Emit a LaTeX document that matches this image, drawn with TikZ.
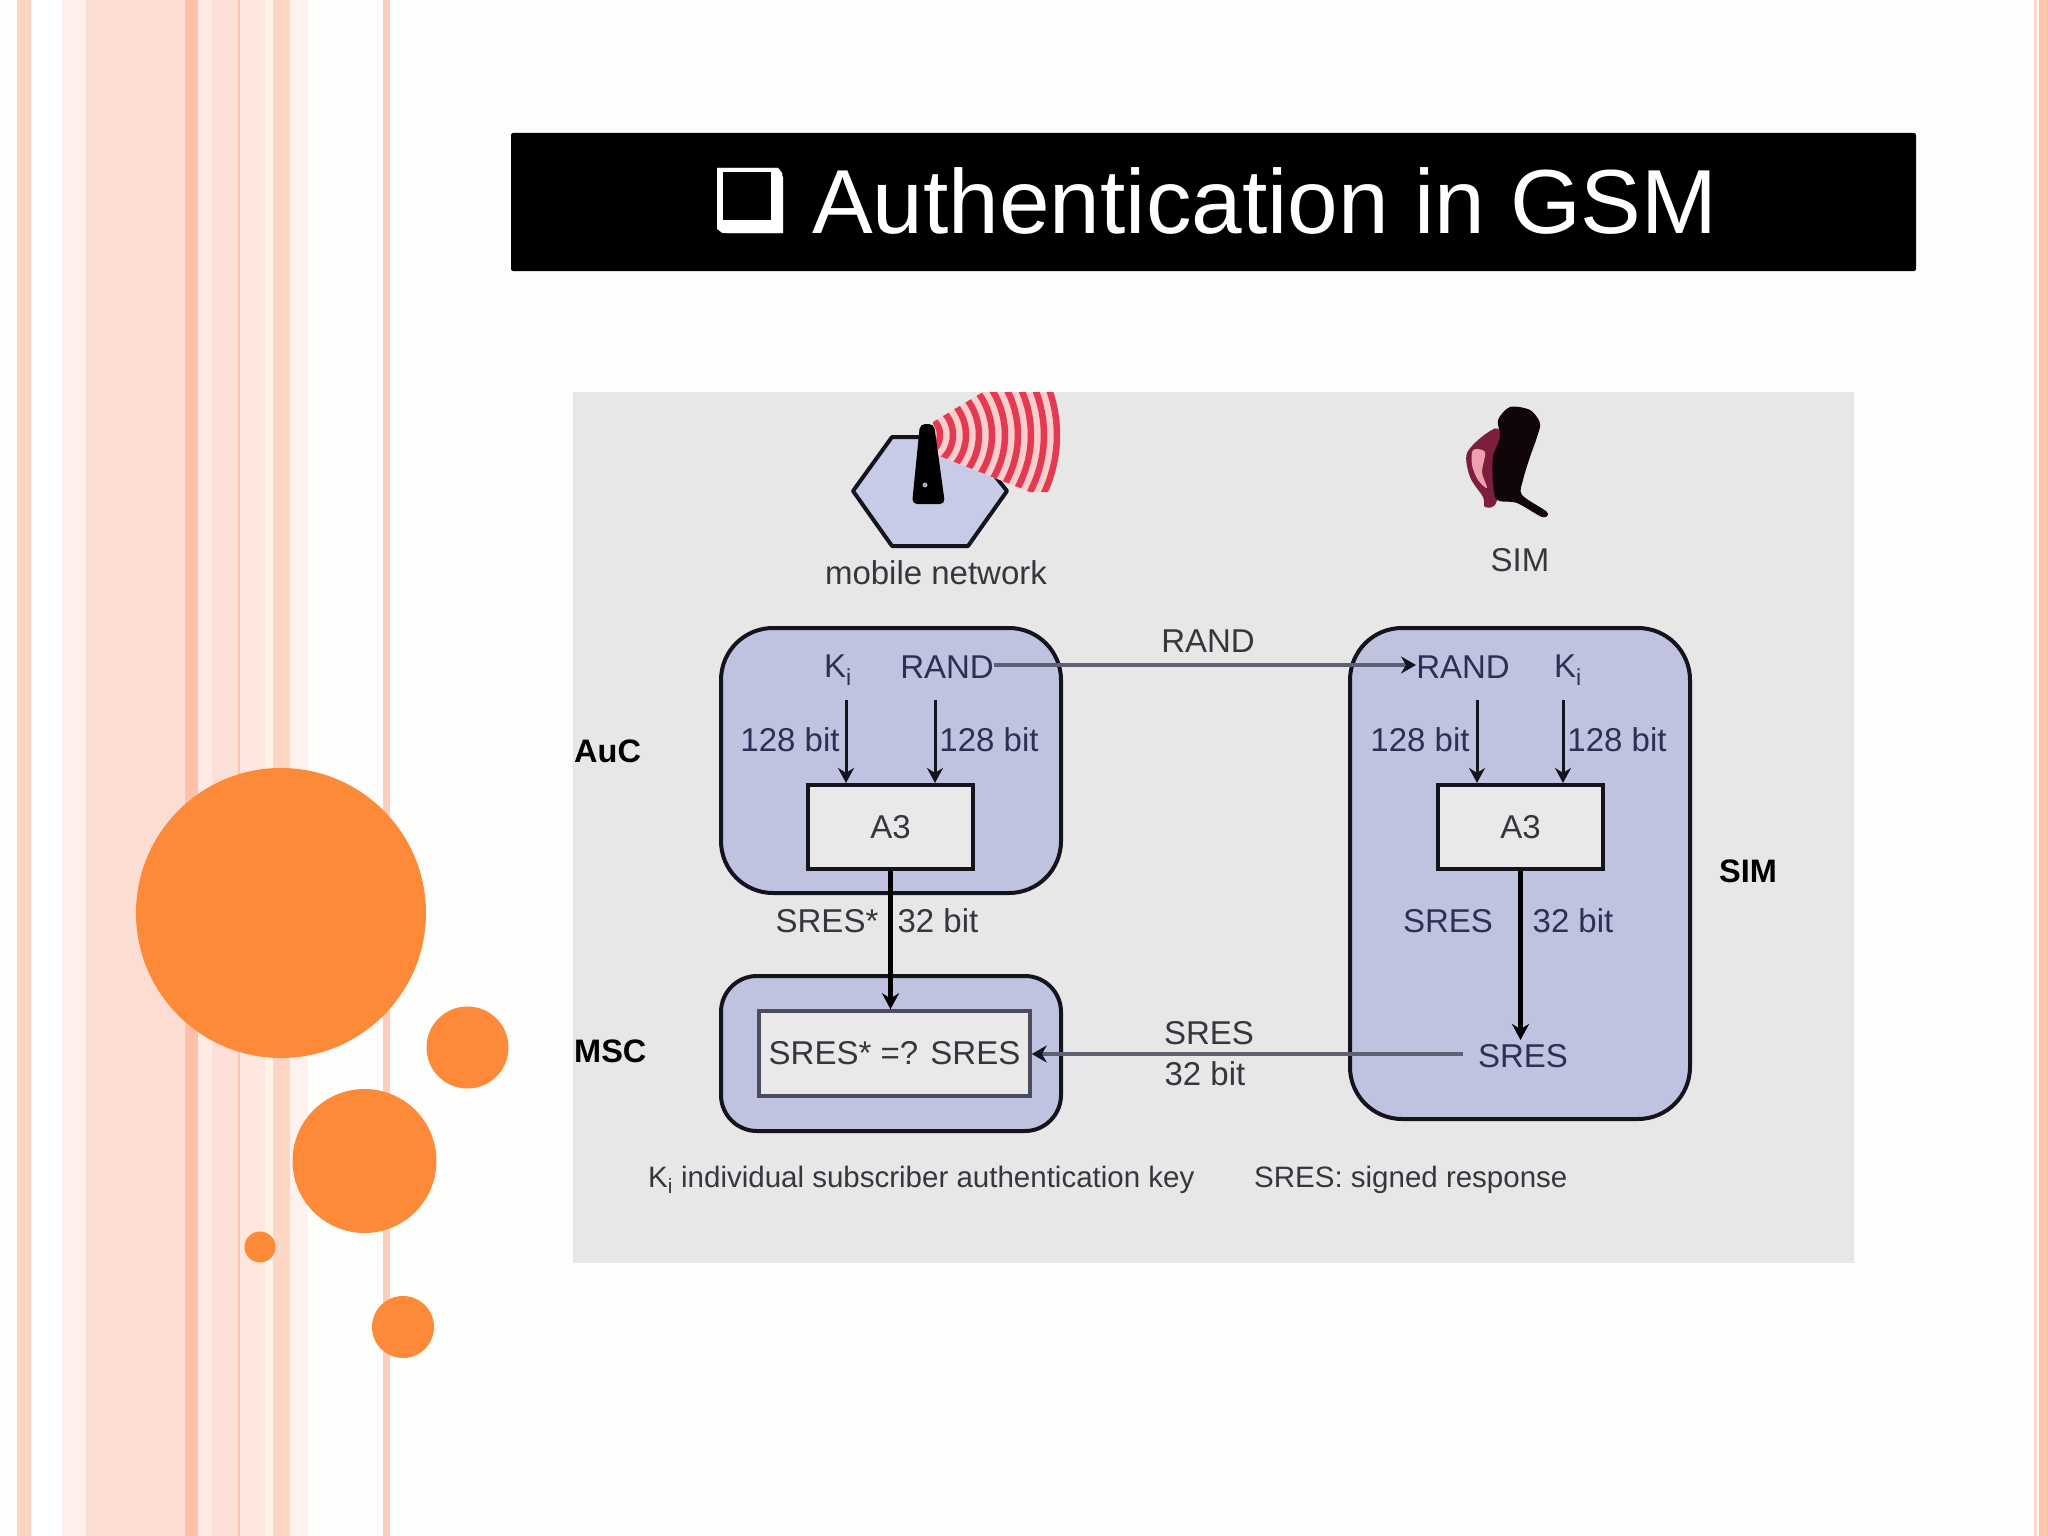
\documentclass[tikz,border=0pt]{standalone}
\usepackage{fontspec}
\setmainfont{Liberation Sans}
\newfontfamily\djv{DejaVu Sans}
\usetikzlibrary{arrows.meta}
\definecolor{pagebg}{HTML}{FDFEFC}
\definecolor{panelbg}{HTML}{E7E7E8}
\definecolor{boxfill}{HTML}{C0C3E0}
\definecolor{hexfill}{HTML}{C8CBE6}
\definecolor{whitebox}{HTML}{E9E9EA}
\definecolor{inktxt}{HTML}{36363E}
\definecolor{navytxt}{HTML}{2C3054}
\definecolor{boxline}{HTML}{14141F}
\definecolor{wireline}{HTML}{5E6074}
\definecolor{orangedot}{HTML}{FD8A38}
\definecolor{wavered}{HTML}{E23A50}
\definecolor{wavepink}{HTML}{FCCDCD}
\definecolor{handdark}{HTML}{7D1E3C}
\definecolor{handpink}{HTML}{EEA0AF}
\definecolor{phoneblack}{HTML}{0F050A}
\definecolor{dotgrey}{HTML}{AAAAAA}
\definecolor{sa}{HTML}{FBD3BF}
\definecolor{sb}{HTML}{FFF0EB}
\definecolor{sc}{HTML}{FCDDD2}
\definecolor{sd}{HTML}{FFBFAB}
\definecolor{se}{HTML}{FFEBE3}
\definecolor{sf}{HTML}{FEDFD8}
\definecolor{sg}{HTML}{F9C6B6}
\definecolor{sh}{HTML}{FFE6DF}
\definecolor{si}{HTML}{FFF3E9}
\definecolor{sj}{HTML}{FDD6C6}
\definecolor{sk}{HTML}{FFF2EE}
\definecolor{sl}{HTML}{FDCDBF}
\definecolor{sm}{HTML}{FFD5C8}
\definecolor{sn}{HTML}{FFC4AE}
\tikzset{
  x=1pt,y=-1pt,
  dot/.style={circle,fill=orangedot,draw=none,inner sep=0pt,minimum size=#1},
  lbl/.style={inner sep=0pt,text=inktxt,font=\fontsize{33}{40}\selectfont},
  inlbl/.style={inner sep=0pt,text=navytxt,font=\fontsize{33}{40}\selectfont},
  sidelbl/.style={inner sep=0pt,text=black,font=\bfseries\fontsize{32.5}{38}\selectfont},
  caplbl/.style={inner sep=0pt,text=inktxt,font=\fontsize{29.5}{36}\selectfont},
  group/.style={draw=boxline,line width=4pt,fill=boxfill,rounded corners=#1},
  fnbox/.style={draw=boxline,line width=4pt,fill=whitebox},
  thin arrow/.style={draw=boxline,line width=3pt,-{Stealth[length=15pt,width=16pt]}},
  thick arrow/.style={draw=black,line width=4.5pt,-{Stealth[length=16pt,width=17pt]}},
  wire/.style={draw=wireline,line width=3.5pt,-{Stealth[length=15pt,width=17pt,color=boxline]}},
}
\begin{document}
\begin{tikzpicture}
\useasboundingbox (0,0) rectangle (2048,1536);
\fill[pagebg] (0,0) rectangle (2048,1536);
% stripes
\fill[white] (31,0) rectangle (62,1536);
\fill[sa] (17,0) rectangle (31,1536);
\fill[sb] (62,0) rectangle (86,1536);
\fill[sc] (86,0) rectangle (185,1536);
\fill[sd] (185,0) rectangle (198,1536);
\fill[se] (198,0) rectangle (212,1536);
\fill[sf] (212,0) rectangle (238,1536);
\fill[sg] (238,0) rectangle (240,1536);
\fill[sh] (240,0) rectangle (265,1536);
\fill[si] (265,0) rectangle (273,1536);
\fill[sj] (273,0) rectangle (290,1536);
\fill[sk] (290,0) rectangle (308,1536);
\fill[sl] (383,0) rectangle (390,1536);
\fill[sm] (2034,0) rectangle (2037,1536);
\fill[white] (2037,0) rectangle (2039,1536);
\fill[sn] (2039,0) rectangle (2048,1536);
% circles
\node[dot=290pt] (c1) at (281,913) {};
\node[dot=82pt] (c2) at (467.5,1047.5) {};
\node[dot=144pt] (c3) at (364.5,1161) {};
\node[dot=31pt] (c4) at (260,1247) {};
\node[dot=62pt] (c5) at (403,1327) {};
% title
\fill[black,rounded corners=2pt] (511,133) rectangle (1916,271);
\fill[white] (718,168) -- (775,168) -- (783,177) -- (783,233) -- (727,233) -- (718,225) -- cycle;
\fill[black] (723,172) rectangle (771,220);
\node[inner sep=0pt,text=white,font=\djv\fontsize{84}{92}\selectfont] (bullet) at (750.5,201) {❑};
\node[inner sep=0pt,text=white,anchor=base west,font=\fontsize{91}{100}\selectfont] (title) at (812,233) {Authentication in GSM};
% panel
\fill[panelbg] (573,392) rectangle (1854,1263);
% mobile network icon
\draw[boxline,line width=4pt,line join=round,fill=hexfill]
  (853,491) -- (892,437) -- (964,437) -- (1007,491) -- (968,546) -- (892,546) -- cycle;
\begin{scope}
\clip (933,422) -- (983,392) -- (1073,392) -- (1073,492) -- (1030,492) -- (937,455) -- cycle;
\fill[wavepink] (920,435) circle (137);
\foreach \r in {20,33,...,137}
  \draw[wavered,line width=6.5pt] plot[domain=-60:60,samples=30] ({920+\r*cos(\x)},{435-\r*sin(\x)});
\end{scope}
\fill[black,rounded corners=5pt] (920,424) -- (934,424) -- (945,504) -- (912,504) -- cycle;
\fill[dotgrey] (925,485) circle (2.5);
% phone icon
\fill[handdark] plot[smooth cycle] coordinates {(1467,453) (1487,433) (1500,433) (1497,500) (1485,507) (1483,497) (1470,477)};
\fill[handpink] plot[smooth cycle] coordinates {(1473,450) (1485,452) (1482,472) (1487,488) (1478,480) (1472,465)};
\fill[phoneblack] plot[smooth cycle,tension=0.5] coordinates {(1510,407) (1530,410) (1540,423) (1537,437) (1530,457) (1523,480) (1522,495) (1547,512) (1542,517) (1517,503) (1497,500) (1493,483) (1493,457) (1500,437) (1498,420)};
\node[lbl] (mobnet) at (936,573) {mobile network};
\node[lbl] (simtop) at (1520,560) {SIM};
% groups
\node[group=52pt,minimum width=340pt,minimum height=265pt,inner sep=0pt] (auc) at (891,760.5) {};
\node[group=36pt,minimum width=340pt,minimum height=155pt,inner sep=0pt] (msc) at (891,1053.5) {};
\node[group=52pt,minimum width=340pt,minimum height=491pt,inner sep=0pt] (sim) at (1520,873.5) {};
\node[fnbox,minimum width=165pt,minimum height=84pt,inner sep=0pt,inlbl,text=inktxt] (a3l) at (890.5,827) {A3};
\node[fnbox,minimum width=165pt,minimum height=84pt,inner sep=0pt,inlbl,text=inktxt] (a3r) at (1520.5,827) {A3};
\node[fnbox,line width=3.5pt,draw=wireline!80!black,minimum width=271pt,minimum height=85pt,inner sep=0pt,lbl] (cmp) at (894.5,1053.5) {SRES* =? SRES};
% side labels
\node[sidelbl,anchor=west] (auclbl) at (574,751) {AuC};
\node[sidelbl,anchor=west] (msclbl) at (574,1051) {MSC};
\node[sidelbl] (simlbl) at (1748,871) {SIM};
% left inner texts
\node[inlbl] (kil) at (838,670) {K\textsubscript{i}};
\node[inlbl] (randl) at (947,667) {RAND};
\node[inlbl] (bl1) at (790,740) {128 bit};
\node[inlbl] (bl2) at (989,740) {128 bit};
% right inner texts
\node[inlbl] (randr) at (1463,667) {RAND};
\node[inlbl] (kir) at (1568,670) {K\textsubscript{i}};
\node[inlbl] (br1) at (1420,740) {128 bit};
\node[inlbl] (br2) at (1617,740) {128 bit};
\node[inlbl] (sr1) at (1448,921) {SRES};
\node[inlbl] (sr2) at (1573,921) {32 bit};
\node[inlbl] (sresr) at (1523,1056) {SRES};
% middle labels
\node[lbl] (randm) at (1208,641) {RAND};
\node[lbl] (sl1) at (827,921) {SRES*};
\node[lbl] (sl2) at (938,921) {32 bit};
\node[lbl] (sm1) at (1209,1033) {SRES};
\node[lbl] (sm2) at (1205,1074) {32 bit};
% captions
\node[caplbl,anchor=west] (cap1) at (648,1180) {K\textsubscript{i} individual subscriber authentication key};
\node[caplbl,anchor=west] (cap2) at (1254,1180) {SRES: signed response};
% connectors
\coordinate (a1) at (846,700);
\coordinate (a2) at (935,700);
\coordinate (a3) at (1477,700);
\coordinate (a4) at (1563,700);
\coordinate (sresstart) at (1463,1054);
\coordinate (sresend) at (1520,1040);
\coordinate (randy) at (1200,665);
\draw[thin arrow] (a1) -- (a1 |- a3l.north);
\draw[thin arrow] (a2) -- (a2 |- a3l.north);
\draw[thin arrow] (a3) -- (a3 |- a3r.north);
\draw[thin arrow] (a4) -- (a4 |- a3r.north);
\draw[thick arrow] (a3l.south) -- (a3l.south |- cmp.north);
\draw[thick arrow] (a3r.south) -- (a3r.south |- sresend);
\draw[wire] (randl.east |- randy) -- (randr.west |- randy);
\draw[wire] (sresstart) -- (sresstart -| cmp.east);
\end{tikzpicture}
\end{document}
